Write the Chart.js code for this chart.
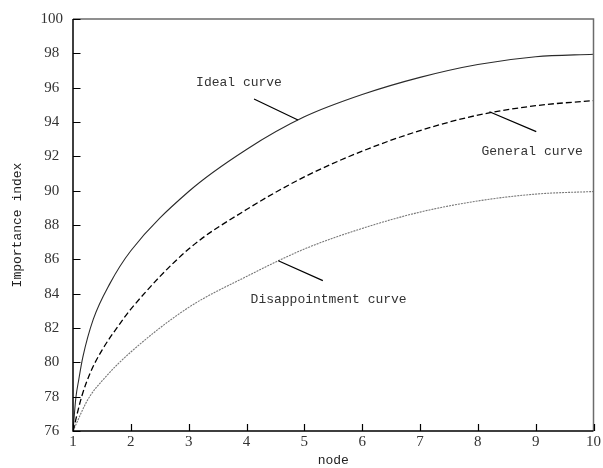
<!DOCTYPE html>
<html><head><meta charset="utf-8">
<script src="https://cdn.jsdelivr.net/npm/chart.js@4/dist/chart.umd.min.js"></script>
<style>html,body{margin:0;padding:0;background:#fff}#wrap{width:603px;height:468px}</style>
</head><body><div id="wrap"><canvas id="c" width="603" height="468"></canvas></div>
<script>
// ---- data ----
const xMin = 1, xMax = 10, xStep = 1;
const yMin = 76, yMax = 100, yStep = 2;
const xTitle = 'node';
const yTitle = 'Importance index';

const idealX = [1, 1.05, 1.1, 1.17, 1.35, 1.64, 2, 3, 4, 5, 6, 7, 8, 9, 10];
const idealY = [76, 77.95, 79.0, 80.3, 82.5, 84.6, 86.5, 89.95, 92.4, 94.3, 95.6, 96.6, 97.35, 97.8, 97.95];

const generalX = [1, 1.15, 1.3, 1.5, 1.8, 2, 3, 4, 5, 6, 7, 8, 9, 10];
const generalY = [76, 78.0, 79.4, 80.7, 82.2, 83.1, 86.6, 88.9, 90.8, 92.3, 93.5, 94.4, 94.95, 95.25];

const disapX = [1, 1.26, 1.55, 2, 3, 4, 5, 6, 7, 8, 9, 10];
const disapY = [76, 77.85, 79.1, 80.6, 83.2, 85.0, 86.6, 87.8, 88.75, 89.4, 89.8, 89.95];

// annotation labels (data coordinates)
const noteText  = ['Ideal curve', 'General curve', 'Disappointment curve'];
const noteTextX = [3.87, 8.94, 5.42];
const noteTextY = [96.27, 92.25, 83.63];
const leadFromX = [4.13, 9.01, 5.32];
const leadFromY = [95.34, 93.44, 84.76];
const leadToX   = [4.89, 8.20, 4.55];
const leadToY   = [94.12, 94.6, 85.92];

const pts = (xs, ys) => xs.map((x, i) => ({x: x, y: ys[i]}));

const framePlugin = {
  id: 'frame',
  afterDatasetsDraw(chart) {
    const ctx = chart.ctx, a = chart.chartArea;
    const xs = chart.scales.x, ys = chart.scales.y;
    ctx.save();
    ctx.strokeStyle = '#6b6b6b'; ctx.lineWidth = 1.5;
    ctx.beginPath();
    ctx.moveTo(a.left, a.top); ctx.lineTo(a.right, a.top); ctx.lineTo(a.right, a.bottom);
    ctx.stroke();
    ctx.strokeStyle = '#000'; ctx.lineWidth = 1.5;
    ctx.beginPath();
    ctx.moveTo(a.left, a.top); ctx.lineTo(a.left, a.bottom); ctx.lineTo(a.right, a.bottom);
    ctx.stroke();
    ctx.lineWidth = 1.2;
    ctx.beginPath();
    for (let v = yMin; v <= yMax; v += yStep) {
      const py = Math.round(ys.getPixelForValue(v)) + 0.5;
      ctx.moveTo(a.left, py); ctx.lineTo(a.left + 7.5, py);
    }
    for (let v = xMin; v <= xMax; v += xStep) {
      const px = Math.round(xs.getPixelForValue(v)) + 0.5;
      ctx.moveTo(px, a.bottom); ctx.lineTo(px, a.bottom - 7);
    }
    ctx.stroke();
    ctx.strokeStyle = '#000'; ctx.lineWidth = 1.2;
    ctx.beginPath();
    for (let i = 0; i < noteText.length; i++) {
      ctx.moveTo(xs.getPixelForValue(leadFromX[i]), ys.getPixelForValue(leadFromY[i]));
      ctx.lineTo(xs.getPixelForValue(leadToX[i]), ys.getPixelForValue(leadToY[i]));
    }
    ctx.stroke();
    ctx.fillStyle = '#333';
    ctx.font = '13px "Liberation Mono"';
    ctx.textAlign = 'center'; ctx.textBaseline = 'middle';
    for (let i = 0; i < noteText.length; i++) {
      ctx.fillText(noteText[i], xs.getPixelForValue(noteTextX[i]), ys.getPixelForValue(noteTextY[i]));
    }
    ctx.restore();
  }
};

new Chart(document.getElementById('c'), {
  type: 'line',
  data: {
    datasets: [
      {label: 'Ideal curve', data: pts(idealX, idealY), borderColor: '#2a2a2a', borderWidth: 1.1},
      {label: 'General curve', data: pts(generalX, generalY), borderColor: '#000', borderWidth: 1.3, borderDash: [6, 3]},
      {label: 'Disappointment curve', data: pts(disapX, disapY), borderColor: '#777', borderWidth: 1.1, borderDash: [2, 1]}
    ]
  },
  options: {
    responsive: false,
    animation: false,
    devicePixelRatio: 1,
    datasets: {line: {pointRadius: 0, fill: false, cubicInterpolationMode: 'monotone'}},
    layout: {padding: {top: 19, right: 9, left: 0, bottom: 0}},
    plugins: {legend: {display: false}, tooltip: {enabled: false}},
    scales: {
      x: {
        type: 'linear', min: xMin, max: xMax,
        border: {display: false},
        grid: {display: false, drawTicks: false},
        ticks: {stepSize: xStep, padding: 2, color: '#333', font: {family: 'Liberation Serif', size: 15}},
        title: {display: true, text: xTitle, color: '#222', font: {family: 'Liberation Mono', size: 13}, padding: {top: 0, bottom: 0}},
        afterFit: s => { s.height = 37; }
      },
      y: {
        type: 'linear', min: yMin, max: yMax,
        border: {display: false},
        grid: {display: false, drawTicks: false},
        ticks: {stepSize: yStep, padding: 10, crossAlign: 'center', color: '#333', font: {family: 'Liberation Serif', size: 15}},
        title: {display: true, text: yTitle, color: '#222', font: {family: 'Liberation Mono', size: 13}, padding: {top: 10, bottom: 0}},
        afterFit: s => { s.width = 73; }
      }
    }
  },
  plugins: [framePlugin]
});
</script>
</body></html>
